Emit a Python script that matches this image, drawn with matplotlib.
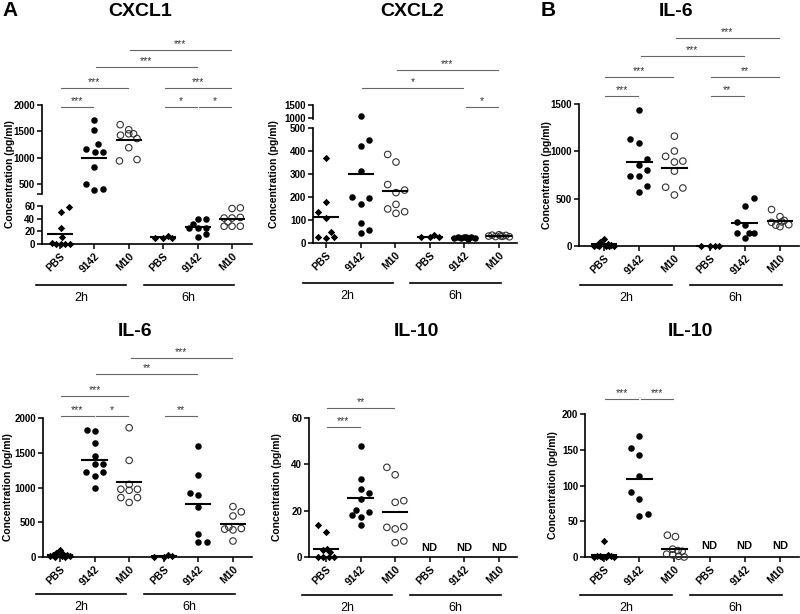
import matplotlib.pyplot as plt
import matplotlib.transforms as mtransforms
import numpy as np

plt.rcParams['font.family'] = ['Liberation Sans', 'DejaVu Sans']

# Categories
groups = ['PBS', '9142', 'M10', 'PBS', '9142', 'M10']
times = ['2h', '6h']

# Panel A - CXCL1 (pg/ml), one list per group: PBS 2h, 9142 2h, M10 2h, PBS 6h, 9142 6h, M10 6h
cxcl1 = [
    [58, 51, 26, 11, 2, 0, 0, 0, 0],
    [1724, 1532, 1270, 1160, 1115, 1115, 820, 500, 390, 405],
    [1628, 1532, 1429, 1455, 1455, 1365, 1192, 942, 968],
    [10, 9, 13, 10],
    [25.8, 32, 39, 39.5, 25.5, 25.5, 11.6, 15.3],
    [56, 57, 41, 41, 42, 35, 28, 28, 28],
]
cxcl1_dx = [
    [0.26, 0.02, 0.02, 0.07, -0.22, -0.1, 0.04, 0.16, 0.28],
    [0, 0, 0.12, -0.24, 0.02, 0.26, 0, -0.24, 0, 0.24],
    [-0.25, 0, -0.24, 0, 0.14, 0.24, 0, -0.27, 0.24],
    [-0.25, 0, 0.13, 0.26],
    [-0.26, -0.13, 0, 0.23, 0, 0.23, 0, 0.23],
    [0, 0.24, -0.23, 0, 0.24, -0.12, -0.23, 0, 0.24],
]
cxcl1_sig = [(0, 1, '***'), (3, 4, '*'), (4, 5, '*'), (0, 2, '***'), (3, 5, '***'), (1, 4, '***'), (2, 5, '***')]
cxcl1_rows = [0, 0, 0, 1, 1, 2, 3]

# Panel A - CXCL2
cxcl2 = [
    [368, 177, 136, 107, 46, 28, 28, 20],
    [1054, 448, 423, 313, 199, 194, 168, 88, 42, 56],
    [385, 352, 254, 219, 230, 168, 148, 129, 136],
    [25, 26, 33, 25],
    [22, 25, 20, 28, 24, 18, 26, 23],
    [30, 34, 28, 36, 31, 29, 33, 27],
]
cxcl2_dx = [
    [0, 0, -0.24, 0, 0.15, 0.24, -0.24, 0],
    [0, 0.24, 0, 0, -0.24, 0.24, 0, 0, 0, 0.24],
    [-0.22, 0.02, -0.22, 0.02, 0.27, 0.02, -0.22, 0.02, 0.27],
    [-0.25, 0, 0.13, 0.27],
    [-0.3, -0.2, -0.1, 0, 0.05, 0.1, 0.2, 0.3],
    [-0.3, -0.2, -0.1, 0, 0.05, 0.1, 0.2, 0.3],
]
cxcl2_sig = [(4, 5, '*'), (1, 4, '*'), (2, 5, '***')]
cxcl2_rows = [0, 1, 2]

# Panel B - IL-6
il6_b = [
    [75, 40, 25, 15, 10, 5, 3, 2, 0, 0],
    [1433, 1135, 1089, 922, 858, 805, 738, 738, 632, 568],
    [1160, 1003, 947, 887, 897, 791, 621, 613, 539],
    [0, 2, 3, 1],
    [507, 426, 252, 223, 142, 142, 142, 82],
    [385, 310, 270, 250, 255, 225, 205, 220],
]
il6_b_dx = [
    [0, -0.1, 0.1, -0.2, 0.2, -0.28, 0.28, 0.05, -0.15, 0.15],
    [0, -0.26, 0, 0.22, 0, 0.22, -0.26, 0, 0.22, 0],
    [0, 0, -0.25, 0, 0.24, 0, -0.25, 0.24, 0],
    [-0.25, 0, 0.14, 0.26],
    [0.25, 0, -0.23, 0, -0.23, 0.12, 0.25, 0],
    [-0.24, 0, 0.12, -0.24, 0.05, 0.25, 0, -0.12],
]
il6_b_sig = [(0, 1, '***'), (3, 4, '**'), (0, 2, '***'), (3, 5, '**'), (1, 4, '***'), (2, 5, '***')]
il6_b_rows = [0, 0, 1, 1, 2, 3]

# Panel A - IL-6
il6_a = [
    [95, 55, 40, 30, 25, 20, 15, 10, 5, 0],
    [1822, 1808, 1635, 1452, 1332, 1332, 1221, 1221, 1163, 1000],
    [1860, 1390, 1045, 975, 960, 975, 855, 785, 855],
    [5, 2, 22, 10],
    [1601, 1173, 918, 894, 726, 332, 212, 221],
    [725, 650, 590, 430, 400, 390, 410, 230],
]
il6_a_dx = [
    [0, -0.1, 0.1, -0.2, 0.2, -0.28, 0.28, 0.05, -0.15, 0.15],
    [-0.23, 0, 0, 0, 0, 0.24, -0.24, 0.24, 0, 0],
    [0, 0, 0, -0.24, 0, 0.24, -0.24, 0, 0.24],
    [-0.27, 0, 0.12, 0.24],
    [0, 0, -0.24, 0, 0, 0, 0, 0.24],
    [0, 0.24, 0, -0.12, -0.24, 0, 0.24, 0],
]
il6_a_sig = [(0, 1, '***'), (1, 2, '*'), (3, 4, '**'), (0, 2, '***'), (1, 4, '**'), (2, 5, '***')]
il6_a_rows = [0, 0, 0, 1, 2, 3]

# Panel A - IL-10 (6h not detected)
il10_a = [
    [13.8, 10.6, 3.5, 3, 2, 0, 0, 0, 0],
    [48.1, 33.7, 29.4, 27.5, 25, 20.3, 18.1, 17.4, 19.4, 13.8],
    [38.7, 35.5, 23.6, 24.3, 12.8, 12.1, 13.1, 6.2, 6.9],
    [], [], [],
]
il10_a_dx = [
    [-0.24, 0, 0.04, -0.08, 0.12, -0.24, -0.08, 0.1, 0.24],
    [0, 0, 0, 0.24, 0, -0.12, -0.24, 0, 0.24, 0],
    [-0.24, 0, 0, 0.25, -0.24, 0, 0.25, 0, 0.25],
    [], [], [],
]
il10_a_sig = [(0, 1, '***'), (0, 2, '**')]
il10_a_rows = [0, 1]

# Panel B - IL-10 (6h not detected)
il10_b = [
    [22, 3, 2, 1, 1, 0.5, 0.5, 0, 0],
    [168.7, 152.3, 143, 113.6, 91.1, 81.3, 58, 59.8],
    [30.5, 28.5, 11, 9, 8, 4, 3, 1, 0],
    [], [], [],
]
il10_b_dx = [
    [0, 0.1, -0.1, 0.2, -0.2, 0.28, -0.28, 0.05, -0.05],
    [0, -0.24, 0, 0, -0.24, 0, 0, 0.25],
    [-0.2, 0.03, -0.05, 0.1, 0.22, -0.22, -0.05, 0.12, 0.28],
    [], [], [],
]
il10_b_sig = [(0, 1, '***'), (1, 2, '***')]
il10_b_rows = [0, 0]

W, H = 800, 614
fig = plt.figure(figsize=(W / 100, H / 100), dpi=100)


def fy(ypx):
    # pixel from top -> figure fraction
    return 1 - ypx / H


def make_axes(left, right, top, bottom):
    ax = fig.add_axes([left / W, fy(bottom), (right - left) / W, (bottom - top) / H])
    ax.patch.set_alpha(0)
    for s in ['top', 'right']:
        ax.spines[s].set_visible(False)
    for s in ['left', 'bottom']:
        ax.spines[s].set_linewidth(1.2)
    ax.tick_params(direction='out', length=3.5, width=1.1, labelsize=7, pad=1.5)
    return ax


def draw_points(ax, values, offsets, lo, hi):
    for i, (vals, offs) in enumerate(zip(values, offsets)):
        if not vals:
            continue
        vals = np.array(vals, float)
        offs = np.array(offs, float)
        keep = (vals >= lo) & (vals <= hi)
        if keep.any():
            if i % 3 == 0:
                ax.scatter(i + offs[keep], vals[keep], s=14, marker='D', color='black',
                           linewidths=0, clip_on=False, zorder=3)
            elif i % 3 == 1:
                ax.scatter(i + offs[keep], vals[keep], s=22, marker='o', color='black',
                           linewidths=0, clip_on=False, zorder=3)
            else:
                ax.scatter(i + offs[keep], vals[keep], s=22, marker='o', facecolor='none',
                           edgecolor='#333333', linewidths=0.8, clip_on=False, zorder=3)
        m = vals.mean()
        if lo <= m <= hi:
            ax.plot([i - 0.35, i + 0.35], [m, m], color='black', lw=1.5, zorder=4, clip_on=False)


def draw_panel(left, right, xlim, sections, values, offsets, sig, rows, levels,
               title, title_x, title_y, ylabel_x, group_y, nd_y=None):
    axes = []
    for k, (top, bottom, ylim, yticks) in enumerate(sections):
        ax = make_axes(left, right, top, bottom)
        ax.set_xlim(*xlim)
        ax.set_ylim(*ylim)
        ax.set_yticks(yticks)
        ax.set_yticklabels(['' if (t == ylim[0] and t != 0) else str(t) for t in yticks],
                           fontweight='bold')
        draw_points(ax, values, offsets, ylim[0], ylim[1])
        if k < len(sections) - 1:
            ax.spines['bottom'].set_visible(False)
            ax.set_xticks([])
        axes.append(ax)

    ax = axes[-1]
    ax.set_xticks(range(len(groups)))
    ax.set_xticklabels(groups, rotation=45, ha='right', va='top', rotation_mode='anchor',
                       fontweight='bold', fontsize=7.5)

    trans = mtransforms.blended_transform_factory(ax.transData, fig.transFigure)

    # significance brackets
    for (i, j, stars), r in zip(sig, rows):
        y = levels[r]
        ax.plot([i + 0.04, j - 0.03], [fy(y), fy(y)], color='#666666', lw=0.8,
                transform=trans, clip_on=False)
        ax.text((i + j) / 2, fy(y - 0.5), stars, ha='center', va='bottom', fontsize=7.5,
                color='#333333', transform=trans)

    # time group lines
    for g, (a, b) in enumerate([(-0.68, 1.92), (2.43, 5.05)]):
        ax.plot([a, b], [fy(group_y), fy(group_y)], color='black', lw=1.2,
                transform=trans, clip_on=False)
        ax.text((a + b) / 2, fy(group_y + 13), times[g], ha='center', va='center',
                fontsize=9, transform=trans)

    if nd_y is not None:
        for i, vals in enumerate(values):
            if not vals:
                ax.text(i, fy(nd_y), 'ND', ha='center', va='center', fontsize=8,
                        fontweight='bold', transform=trans)

    top_px = sections[0][0]
    bottom_px = sections[-1][1]
    fig.text(ylabel_x / W, fy((top_px + bottom_px) / 2), 'Concentration (pg/ml)',
             rotation=90, ha='center', va='center', fontsize=7.5, fontweight='bold')
    fig.text(title_x / W, fy(title_y), title, ha='center', va='center',
             fontsize=14, fontweight='bold')


draw_panel(42, 252, (-0.52, 5.58),
           [(105, 194, (316, 2000), [316, 500, 1000, 1500, 2000]),
            (206, 244, (0, 60), [0, 20, 40, 60])],
           cxcl1, cxcl1_dx, cxcl1_sig, cxcl1_rows, [107, 88, 67, 50],
           'CXCL1', 140, 12, 10, 285)

draw_panel(313, 517, (-0.38, 5.52),
           [(105, 118.5, (960, 1500), [1000, 1500]),
            (128, 243, (0, 500), [0, 100, 200, 300, 400, 500])],
           cxcl2, cxcl2_dx, cxcl2_sig, cxcl2_rows, [107, 88, 70],
           'CXCL2', 412, 12, 274, 283)

draw_panel(579, 799, (-0.71, 5.54),
           [(104, 246, (0, 1500), [0, 500, 1000, 1500])],
           il6_b, il6_b_dx, il6_b_sig, il6_b_rows, [96, 77, 56, 38],
           'IL-6', 676, 12, 547, 285)

draw_panel(43, 252, (-0.49, 5.55),
           [(418, 557, (0, 2000), [0, 500, 1000, 1500, 2000])],
           il6_a, il6_a_dx, il6_a_sig, il6_a_rows, [416, 396, 374, 358],
           'IL-6', 135, 332, 8, 594)

draw_panel(309, 517, (-0.49, 5.52),
           [(418, 557, (0, 60), [0, 20, 40, 60])],
           il10_a, il10_a_dx, il10_a_sig, il10_a_rows, [427, 408],
           'IL-10', 416, 332, 277, 595, nd_y=548)

draw_panel(585, 799, (-0.54, 5.54),
           [(414, 557, (0, 200), [0, 50, 100, 150, 200])],
           il10_b, il10_b_dx, il10_b_sig, il10_b_rows, [399],
           'IL-10', 690, 332, 553, 595, nd_y=546)

# panel letters
fig.text(10 / W, fy(10), 'A', ha='center', va='center', fontsize=15, fontweight='bold')
fig.text(548 / W, fy(10), 'B', ha='center', va='center', fontsize=15, fontweight='bold')

fig.savefig('out.png', dpi=100)
